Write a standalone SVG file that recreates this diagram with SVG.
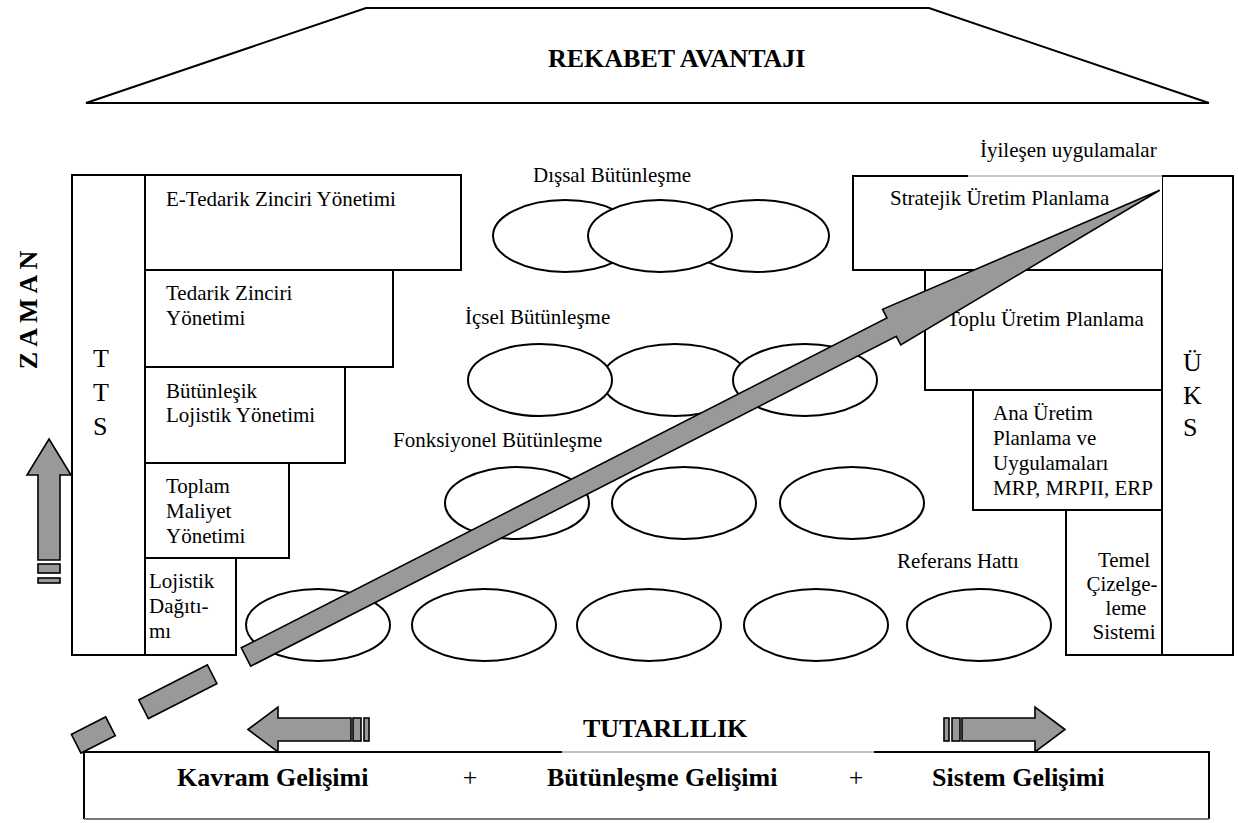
<svg xmlns="http://www.w3.org/2000/svg" width="1238" height="823" viewBox="0 0 1238 823">
  <style>
    .ln { fill: none; stroke: #000; stroke-width: 2; }
    .box { fill: #fff; stroke: #000; stroke-width: 2; }
    .ell { fill: #fff; stroke: #000; stroke-width: 2; }
    .arr { fill: #999; stroke: #000; stroke-width: 1.6; stroke-linejoin: miter; }
    .t { font-family: "Liberation Serif", "Times New Roman", serif; font-size: 21px; fill: #000; }
    .big { font-family: "Liberation Serif", "Times New Roman", serif; font-size: 26px; fill: #000; }
    .b { font-family: "Liberation Serif", "Times New Roman", serif; font-size: 26px; font-weight: bold; fill: #000; }
  </style>
  <rect width="1238" height="823" fill="#fff"/>

  <!-- roof -->
  <g id="roof">
    <polygon class="ln" points="86,103 366,8 929,8 1209,103"/>
    <text class="b" x="548" y="67">REKABET AVANTAJI</text>
  </g>

  <!-- time axis -->
  <g id="zaman">
    <text class="b" x="37" y="310" text-anchor="middle" font-size="22" transform="rotate(-90 37 310)">Z A M A N</text>
    <polygon class="arr" points="49,439 71,475 60,475 60,560 38,560 38,475 27,475"/>
    <rect class="arr" x="38" y="564" width="22" height="9"/>
    <rect class="arr" x="38" y="578" width="22" height="5"/>
  </g>

  <!-- TTS column -->
  <g id="tts">
    <rect class="box" x="72" y="175" width="73" height="480"/>
    <text class="big" x="93" y="367">T</text>
    <text class="big" x="93" y="401">T</text>
    <text class="big" x="93" y="435">S</text>
  </g>
  <g id="e-tedarik">
    <rect class="box" x="145" y="175" width="316" height="95"/>
    <text class="t" x="166" y="206">E-Tedarik Zinciri Yönetimi</text>
  </g>
  <g id="tedarik">
    <rect class="box" x="145" y="270" width="248" height="97"/>
    <text class="t" x="166" y="300">Tedarik Zinciri</text>
    <text class="t" x="166" y="325">Yönetimi</text>
  </g>
  <g id="butunlesik">
    <rect class="box" x="145" y="367" width="200" height="96"/>
    <text class="t" x="166" y="398">Bütünleşik</text>
    <text class="t" x="166" y="422">Lojistik Yönetimi</text>
  </g>
  <g id="toplam">
    <rect class="box" x="145" y="463" width="144" height="95"/>
    <text class="t" x="166" y="493">Toplam</text>
    <text class="t" x="166" y="518">Maliyet</text>
    <text class="t" x="166" y="543">Yönetimi</text>
  </g>
  <g id="lojistik">
    <rect class="box" x="145" y="558" width="91" height="97"/>
    <text class="t" x="149" y="588">Lojistik</text>
    <text class="t" x="149" y="613">Dağıtı-</text>
    <text class="t" x="149" y="638">mı</text>
  </g>

  <!-- ÜKS column -->
  <g id="iyilesen">
    <text class="t" x="980" y="157">İyileşen uygulamalar</text>
  </g>
  <g id="uks">
    <rect class="box" x="1162" y="176" width="71" height="479"/>
    <text class="big" x="1183" y="371">Ü</text>
    <text class="big" x="1183" y="404">K</text>
    <text class="big" x="1183" y="436">S</text>
  </g>
  <g id="stratejik">
    <rect x="853" y="176" width="309" height="94" fill="#fff" stroke="none"/>
    <polyline class="ln" points="968,176 853,176 853,270 1162,270"/>
    <line x1="968" y1="176" x2="1162" y2="176" stroke="#c8c8c8" stroke-width="2"/>
    <text class="t" x="890" y="205">Stratejik Üretim Planlama</text>
  </g>
  <g id="toplu">
    <rect class="box" x="925" y="270" width="237" height="120"/>
    <text class="t" x="947" y="326">Toplu Üretim Planlama</text>
  </g>
  <g id="ana-uretim">
    <rect class="box" x="973" y="390" width="189" height="120"/>
    <text class="t" x="993" y="420">Ana Üretim</text>
    <text class="t" x="993" y="445">Planlama ve</text>
    <text class="t" x="993" y="470">Uygulamaları</text>
    <text class="t" x="993" y="495">MRP, MRPII, ERP</text>
  </g>
  <g id="temel">
    <rect class="box" x="1066" y="510" width="96" height="145"/>
    <text class="t" x="1124" y="567" text-anchor="middle">Temel</text>
    <text class="t" x="1122" y="591" text-anchor="middle">Çizelge-</text>
    <text class="t" x="1126" y="615" text-anchor="middle">leme</text>
    <text class="t" x="1124" y="639" text-anchor="middle">Sistemi</text>
  </g>

  <!-- integration levels -->
  <g id="dissal">
    <text class="t" x="533" y="182">Dışsal Bütünleşme</text>
    <ellipse class="ell" cx="565" cy="236" rx="72" ry="36"/>
    <ellipse class="ell" cx="757" cy="236" rx="72" ry="36"/>
    <ellipse class="ell" cx="660" cy="236" rx="72" ry="36"/>
  </g>
  <g id="icsel">
    <text class="t" x="465" y="324">İçsel Bütünleşme</text>
    <ellipse class="ell" cx="675" cy="380" rx="73" ry="36"/>
    <ellipse class="ell" cx="540" cy="380" rx="72" ry="36"/>
    <ellipse class="ell" cx="805" cy="380" rx="72" ry="36"/>
  </g>
  <g id="fonksiyonel">
    <text class="t" x="393" y="447">Fonksiyonel Bütünleşme</text>
    <ellipse class="ell" cx="517" cy="503" rx="72" ry="36"/>
    <ellipse class="ell" cx="684" cy="503" rx="72" ry="36"/>
    <ellipse class="ell" cx="852" cy="503" rx="72" ry="36"/>
  </g>
  <g id="referans">
    <text class="t" x="897" y="568">Referans Hattı</text>
    <ellipse class="ell" cx="318" cy="625" rx="72" ry="36"/>
    <ellipse class="ell" cx="484" cy="625" rx="72" ry="36"/>
    <ellipse class="ell" cx="649" cy="625" rx="72" ry="36"/>
    <ellipse class="ell" cx="816" cy="625" rx="72" ry="36"/>
    <ellipse class="ell" cx="979" cy="625" rx="72" ry="36"/>
  </g>

  <!-- base -->
  <g id="base">
    <rect x="84" y="752" width="1125" height="67" fill="#fff" stroke="none"/>
    <polyline class="ln" points="562,752 84,752 84,819"/>
    <line x1="562" y1="752" x2="874" y2="752" stroke="#c0c0c0" stroke-width="2"/>
    <polyline class="ln" points="874,752 1209,752 1209,819"/>
    <line x1="84" y1="819" x2="1209" y2="819" stroke="#777" stroke-width="2"/>
    <text class="b" x="177" y="786">Kavram Gelişimi</text>
    <text class="big" x="470" y="786" text-anchor="middle">+</text>
    <text class="b" x="547" y="786">Bütünleşme Gelişimi</text>
    <text class="big" x="856" y="786" text-anchor="middle">+</text>
    <text class="b" x="932" y="786">Sistem Gelişimi</text>
  </g>
  <g id="tutarlilik">
    <text class="b" x="583" y="737">TUTARLILIK</text>
    <polygon class="arr" points="248,729.5 278,707 278,718 351,718 351,741 278,741 278,752"/>
    <rect class="arr" x="353" y="718" width="8" height="23"/>
    <rect class="arr" x="364" y="718" width="5" height="23"/>
    <polygon class="arr" points="1065,729.5 1035,707 1035,718 962,718 962,741 1035,741 1035,752"/>
    <rect class="arr" x="952" y="718" width="8" height="23"/>
    <rect class="arr" x="944" y="718" width="5" height="23"/>
  </g>

  <!-- connectors: rising development arrow with dashed tail -->
  <g id="connectors">
    <g transform="translate(246 657) rotate(-27.06)">
      <polygon class="arr" points="0,-10.3 725,-10.3 725,-20 1026,0 725,20 725,10.3 0,10.3"/>
      <rect class="arr" x="-115" y="-10.5" width="77" height="21"/>
      <rect class="arr" x="-190.7" y="-10.5" width="38.5" height="21"/>
    </g>
  </g>
</svg>
